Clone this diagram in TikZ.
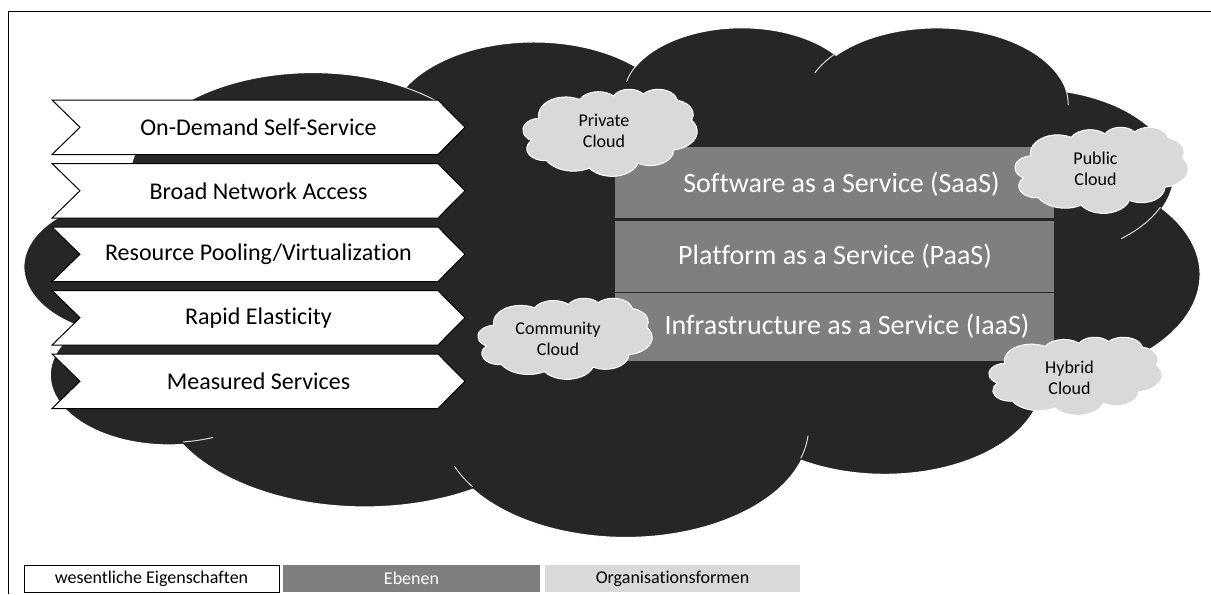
\documentclass[tikz,border=0pt]{standalone}
\usepackage{fontspec}
\setmainfont{Carlito}[Ligatures=NoCommon]
\definecolor{cloudbg}{HTML}{262626}
\definecolor{layergray}{HTML}{7F7F7F}
\definecolor{orggray}{HTML}{D9D9D9}

% ---- PowerPoint-style cloud geometry (43200 x 43200 path space) ----
\newcommand\cloudArc[4]{%
  \pgfmathsetmacro\cA{atan2((#1)*sin(#3),(#2)*cos(#3))}%
  \pgfmathsetmacro\cB{atan2((#1)*sin(#3+#4),(#2)*cos(#3+#4))}%
  \pgfmathsetmacro\cD{\cB-\cA}%
  \pgfmathsetmacro\cD{\cD+(#4>0)*(\cD<0)*360-(#4<0)*(\cD>0)*360}%
  \pgfmathsetmacro\cS{-\cA}%
  \pgfmathsetmacro\cE{-\cA-\cD}%
  \pgfmathsetmacro\cRX{#1/432*(\cW*0.0075)}%
  \pgfmathsetmacro\cRY{#2/432*(\cH*0.0075)}%
  \xdef\cPath{\cPath arc[start angle=\cS,end angle=\cE,x radius=\cRX pt,y radius=\cRY pt]}%
}
\newcommand\cloudMove[2]{%
  \pgfmathsetmacro\cX{\cL+#1/432*\cW}%
  \pgfmathsetmacro\cY{\cT+#2/432*\cH}%
  \xdef\cPath{\cPath (\cX,\cY)}%
}
\newcommand\cloudShape[5]{%
  \def\cL{#1}\def\cT{#2}\def\cW{#3}\def\cH{#4}%
  \gdef\cPath{}%
  \cloudMove{39.00}{143.70}%
  \cloudArc{6753}{9190}{-190.48748}{123.78053}%
  \cloudArc{5333}{7267}{-144.10238}{89.94523}%
  \cloudArc{4365}{5945}{-145.80792}{99.72302}%
  \cloudArc{4857}{6595}{-130.98607}{117.24173}%
  \cloudArc{5333}{7273}{-78.70888}{109.02692}%
  \cloudArc{6775}{9220}{-46.26725}{130.269}%
  \cloudArc{5785}{7867}{0.62502}{114.03333}%
  \cloudArc{6752}{9215}{22.4516}{115.17255}%
  \cloudArc{7720}{10543}{66.24263}{75.71102}%
  \cloudArc{4360}{5918}{-274.94208}{146.73557}%
  \cloudArc{4345}{5945}{-246.8285}{152.51885}%
  \xdef\cPath{\cPath -- cycle}%
  \edef\cTmp{\noexpand\path[#5] \cPath;}\cTmp
}
\newcommand\cloudInner[5]{%
  \def\cL{#1}\def\cT{#2}\def\cW{#3}\def\cH{#4}%
  \gdef\cPath{}%
  \cloudMove{46.93}{261.77}\cloudArc{4345}{5945}{86.742}{26.4295}%
  \cloudMove{69.28}{348.99}\cloudArc{4360}{5918}{73.6105}{11.4475}%
  \cloudMove{164.78}{390.90}\cloudArc{6752}{9215}{137.6242}{14.0811}%
  \cloudMove{288.27}{347.51}\cloudArc{6752}{9215}{6.4533}{15.9984}%
  \cloudMove{341.29}{229.54}\cloudArc{5785}{7867}{-70.2924}{70.9174}%
  \cloudMove{417.98}{153.54}\cloudArc{5333}{7273}{30.3180}{27.7515}%
  \cloudMove{383.24}{54.26}\cloudArc{4857}{6595}{-13.7443}{14.8538}%
  \cloudMove{290.78}{39.52}\cloudArc{4857}{6595}{-149.1815}{18.1954}%
  \cloudMove{221.41}{47.20}\cloudArc{4365}{5945}{-163.4943}{17.6864}%
  \cloudMove{140.00}{51.92}\cloudArc{6753}{9190}{-66.7070}{12.3194}%
  \cloudMove{41.27}{157.89}\cloudArc{6753}{9190}{157.6544}{11.8582}%
  \edef\cTmp{\noexpand\path[#5] \cPath;}\cTmp
}
\newcommand\chev[3]{%
  \pgfmathsetmacro\cvB{#1+54.5}\pgfmathsetmacro\cvM{#1+27.25}%
  \draw[chevshape] (52,#1) -- (438,#1) -- (465,\cvM) -- (438,\cvB) -- (52,\cvB) -- (80,\cvM) -- cycle;
  \node[chevtext] (#2) at (258.5,\cvM) {#3};
}

\begin{document}
\begin{tikzpicture}[x=0.75pt,y=-0.75pt,
  bigcloud/.style={fill=cloudbg,draw=white,line width=0.75pt},
  innerarc/.style={draw=white!85!black,line width=0.75pt},
  smallcloud/.style={fill=orggray,draw=white,line width=0.75pt},
  chevshape/.style={fill=white,draw=black,line width=0.75pt,line join=miter},
  chevtext/.style={font=\fontsize{18}{21}\selectfont,text=black,inner sep=0pt},
  layerbox/.style={fill=layergray,minimum width=329.25pt,inner sep=0pt,anchor=center},
  layertext/.style={text=white,font=\fontsize{21}{25}\selectfont,inner sep=0pt},
  cloudtext/.style={font=\fontsize{13.5}{15.75}\selectfont,text=black,align=center,inner sep=0pt},
  legend/.style={font=\fontsize{13.5}{16}\selectfont,minimum height=20.25pt,inner sep=0pt,anchor=center},
  frameline/.style={draw=black,line width=0.75pt}]
\useasboundingbox (0,0) rectangle (1211,594);
\fill[white] (0,0) rectangle (1211,594);
\draw[frameline] (8,594) -- (8,11.5) -- (1211,11.5);

% big cloud
\cloudShape{25}{26.3}{1173.5}{508.9}{bigcloud}
\cloudInner{25}{26.3}{1173.5}{508.9}{innerarc}

% characteristics
\chev{100}{c1}{On-Demand Self-Service}
\chev{163.5}{c2}{Broad Network Access}
\chev{227}{c3}{Resource Pooling/Virtualization}
\chev{290.5}{c4}{Rapid Elasticity}
\chev{354}{c5}{Measured Services}

% service layers
\node[layerbox,minimum height=53.25pt] (saas) at (834.5,182.5) {};
\node[layerbox,minimum height=53.25pt] (paas) at (834.5,256) {};
\node[layerbox,minimum height=51pt] (iaas) at (834.5,327) {};
\node[layertext] (saast) at (841.5,184.5) {Software as a Service (SaaS)};
\node[layertext] (paast) at (835,256) {Platform as a Service (PaaS)};
\node[layertext] (iaast) at (847,326.5) {Infrastructure as a Service (IaaS)};

% deployment models
\cloudShape{523}{89}{174}{87}{smallcloud}
\node[cloudtext] (private) at (604,131) {Private\\Cloud};
\cloudShape{478}{298}{174}{81}{smallcloud}
\node[cloudtext] (community) at (558,338.5) {Community\\Cloud};
\cloudShape{1015}{127}{173}{86}{smallcloud}
\node[cloudtext] (public) at (1095.5,168.5) {Public\\Cloud};
\cloudShape{989}{337}{173}{78}{smallcloud}
\node[cloudtext] (hybrid) at (1069.5,378) {Hybrid\\Cloud};

% legend
\node[legend,fill=white,draw=black,line width=0.75pt,minimum width=191.25pt] (lg1) at (151.5,578.5) {wesentliche Eigenschaften};
\node[legend,fill=layergray,text=white,minimum width=192.75pt] (lg2) at (411.5,578.5) {Ebenen};
\node[legend,fill=orggray,text=black,minimum width=191.25pt] (lg3) at (672.5,578.5) {Organisationsformen};
\end{tikzpicture}
\end{document}
